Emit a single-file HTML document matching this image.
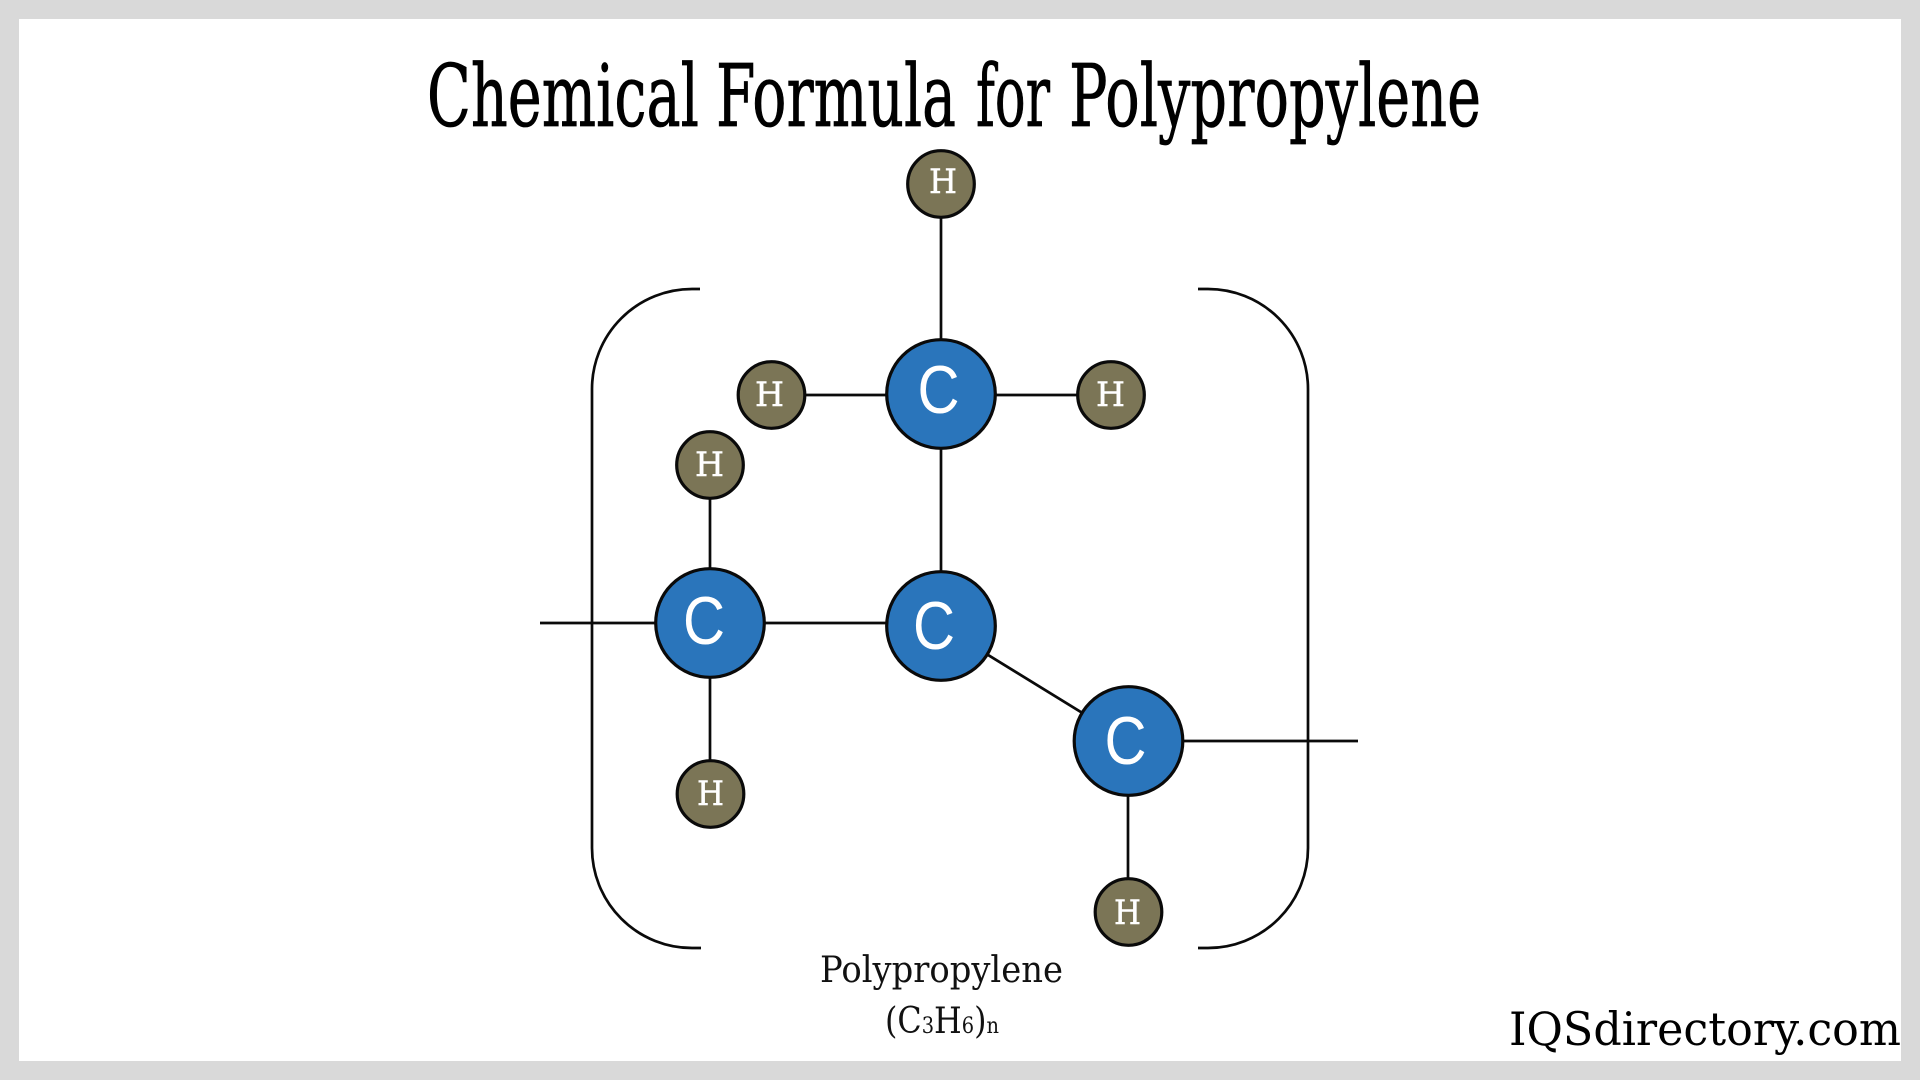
<!DOCTYPE html>
<html><head><meta charset="utf-8"><title>Chemical Formula for Polypropylene</title>
<style>html,body{margin:0;padding:0;background:#fff}svg{display:block}
text{font-family:"DejaVu Serif","Liberation Serif",serif}
.t{font-size:86px;fill:#000;stroke:#000;stroke-width:.8}
.c{font-family:"Liberation Sans",sans-serif;font-size:68px;fill:#fff}
.h{font-size:34px;fill:#fff;stroke:#fff;stroke-width:.5}
.b{fill:#2a75bb;stroke:#0a0a0a;stroke-width:3.2}
.o{fill:#7b7556;stroke:#0a0a0a;stroke-width:3.2}
.l{stroke:#0a0a0a;stroke-width:2.7;fill:none}</style></head>
<body>
<svg width="1920" height="1080" viewBox="0 0 1920 1080" xmlns="http://www.w3.org/2000/svg">
<rect width="1920" height="1080" fill="#d9d9d9"/>
<rect x="19" y="19" width="1882" height="1042" fill="#fff"/>
<text class="t" x="427" y="126" textLength="272" lengthAdjust="spacingAndGlyphs">Chemical</text>
<text class="t" x="716" y="126" textLength="240" lengthAdjust="spacingAndGlyphs">Formula</text>
<text class="t" x="976" y="126" textLength="74" lengthAdjust="spacingAndGlyphs">for</text>
<text class="t" x="1069" y="126" textLength="412" lengthAdjust="spacingAndGlyphs">Polypropylene</text>
<g class="l">
<path d="M700 289H692A100 100 0 0 0 592 389V848A100 100 0 0 0 692 948H701"/>
<path d="M1198 289H1208A100 100 0 0 1 1308 389V848A100 100 0 0 1 1208 948H1198"/>
<path d="M941 184V626M771 395H1111M710 465V794M540 623H941M941 626L1128 741H1358M1128 741V912"/>
</g>
<circle class="o" cx="941" cy="184" r="33.3"/>
<circle class="o" cx="771.5" cy="395" r="33.3"/>
<circle class="o" cx="1111" cy="395" r="33.3"/>
<circle class="o" cx="710" cy="465" r="33.3"/>
<circle class="o" cx="710.5" cy="794" r="33.3"/>
<circle class="o" cx="1128.5" cy="912" r="33.3"/>
<circle class="b" cx="941" cy="394" r="54.3"/>
<circle class="b" cx="710" cy="623" r="54.3"/>
<circle class="b" cx="941" cy="626" r="54.3"/>
<circle class="b" cx="1128.5" cy="741" r="54.3"/>
<text class="c" x="917.5" y="413" textLength="42" lengthAdjust="spacingAndGlyphs">C</text>
<text class="c" x="683" y="644" textLength="42" lengthAdjust="spacingAndGlyphs">C</text>
<text class="c" x="913" y="649" textLength="42" lengthAdjust="spacingAndGlyphs">C</text>
<text class="c" x="1104.5" y="764" textLength="42" lengthAdjust="spacingAndGlyphs">C</text>
<text class="h" x="929" y="193" textLength="28" lengthAdjust="spacingAndGlyphs">H</text>
<text class="h" x="755" y="406" textLength="29" lengthAdjust="spacingAndGlyphs">H</text>
<text class="h" x="1096" y="406" textLength="29" lengthAdjust="spacingAndGlyphs">H</text>
<text class="h" x="695" y="476" textLength="29" lengthAdjust="spacingAndGlyphs">H</text>
<text class="h" x="697" y="805" textLength="27" lengthAdjust="spacingAndGlyphs">H</text>
<text class="h" x="1114" y="924" textLength="27" lengthAdjust="spacingAndGlyphs">H</text>
<text x="820" y="982" font-size="36" fill="#111" textLength="243" lengthAdjust="spacingAndGlyphs">Polypropylene</text>
<text x="885" y="1033" font-size="36" fill="#111" textLength="114" lengthAdjust="spacingAndGlyphs">(C<tspan font-size="22">3</tspan>H<tspan font-size="22">6</tspan>)<tspan font-size="22">n</tspan></text>
<text x="1509" y="1045" font-size="46" fill="#000" textLength="392" lengthAdjust="spacingAndGlyphs">IQSdirectory.com</text>
</svg>
</body></html>
